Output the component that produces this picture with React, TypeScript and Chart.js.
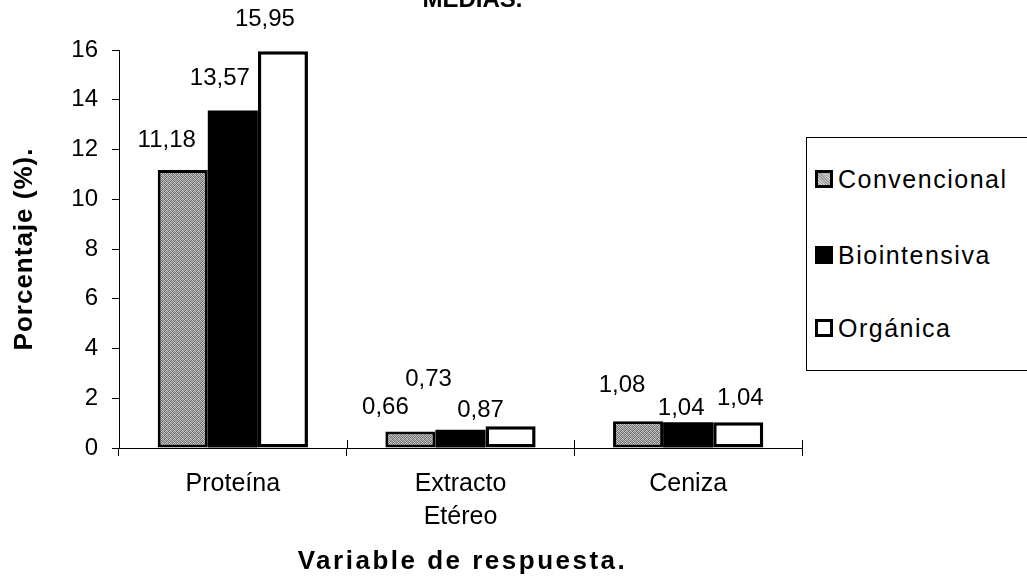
import React, { useEffect, useRef } from "react";
import { Chart, registerables } from "chart.js";

Chart.register(...registerables);

const categories: (string | string[])[] = ["Proteína", ["Extracto", "Etéreo"], "Ceniza"];
const seriesNames = ["Convencional", "Biointensiva", "Orgánica"];
const convencional = [11.18, 0.66, 1.08];
const biointensiva = [13.57, 0.73, 1.04];
const organica = [15.95, 0.87, 1.04];
const yMin = 0;
const yMax = 16;
const yStep = 2;
const chartTitle = "MEDIAS.";
const yTitle = "Porcentaje (%).";
const xTitle = "Variable de respuesta.";

// presentation nudges of the value labels (px, relative to each bar's top centre)
const labelDx = [
  [-16, -25, -16],
  [-13, -32, -7],
  [-18, -30, 2],
];
const labelRise = [
  [30, 24, 36],
  [32, 50, 14],
  [32, 16, 24],
];

const FONT = "'Liberation Sans', Arial, sans-serif";

function makePattern(): CanvasPattern | string {
  const c = document.createElement("canvas");
  c.width = 4;
  c.height = 4;
  const g = c.getContext("2d");
  if (!g) return "#999";
  const shades = [
    "#c8c8c8", "#6a6a6a", "#b0b0b0", "#7c7c7c",
    "#808080", "#d4d4d4", "#5e5e5e", "#b5b5b5",
    "#a0a0a0", "#707070", "#cfcfcf", "#858585",
    "#6d6d6d", "#b8b8b8", "#8a8a8a", "#c4c4c4",
  ];
  shades.forEach((s, i) => {
    g.fillStyle = s;
    g.fillRect(i % 4, Math.floor(i / 4), 1, 1);
  });
  const p = g.createPattern(c, "repeat");
  return p || "#999";
}

const fmt = (v: number) => v.toFixed(2).replace(".", ",");

const labelPlugin = {
  id: "valueLabels",
  afterDatasetsDraw(chart: any) {
    const ctx = chart.ctx;
    ctx.save();
    ctx.font = `24px ${FONT}`;
    ctx.fillStyle = "#000";
    ctx.textAlign = "center";
    ctx.textBaseline = "middle";
    chart.data.datasets.forEach((ds: any, di: number) => {
      const meta = chart.getDatasetMeta(di);
      meta.data.forEach((el: any, i: number) => {
        ctx.fillText(fmt(ds.data[i]), el.x + labelDx[di][i], el.y - labelRise[di][i]);
      });
    });
    ctx.restore();
  },
};

const innerTicksPlugin = {
  id: "innerTicks",
  afterDraw(chart: any) {
    const xs = chart.scales.x;
    const n = chart.data.labels.length;
    const ctx = chart.ctx;
    const y0 = chart.chartArea.bottom;
    ctx.save();
    ctx.strokeStyle = "#000";
    ctx.lineWidth = 1;
    for (let i = 1; i <= n; i++) {
      const x = Math.round(xs.left + (i * xs.width) / n) + 0.5;
      ctx.beginPath();
      ctx.moveTo(x, y0 - 8);
      ctx.lineTo(x, y0);
      ctx.stroke();
    }
    ctx.restore();
  },
};

const titlesPlugin = {
  id: "titles",
  afterDraw(chart: any) {
    const ctx = chart.ctx;
    const { left, right, top, bottom } = chart.chartArea;
    const cx = (left + right) / 2;
    ctx.save();
    ctx.fillStyle = "#000";
    ctx.textAlign = "center";
    ctx.font = `bold 24px ${FONT}`;
    (ctx as any).letterSpacing = "0px";
    ctx.textBaseline = "alphabetic";
    ctx.fillText(chartTitle, cx + 12, 7);
    ctx.font = `bold 26px ${FONT}`;
    (ctx as any).letterSpacing = "2.5px";
    ctx.fillText(xTitle, cx + 2, 569);
    ctx.font = `bold 26px ${FONT}`;
    (ctx as any).letterSpacing = "1px";
    ctx.translate(25, (top + bottom) / 2);
    ctx.rotate(-Math.PI / 2);
    ctx.textBaseline = "middle";
    ctx.fillText(yTitle, 0, 0);
    ctx.restore();
  },
};

function Swatch({ kind }: { kind: number }) {
  const base: React.CSSProperties = {
    width: 18,
    height: 18,
    boxSizing: "border-box",
    display: "inline-block",
    marginRight: 5,
    flex: "0 0 auto",
  };
  if (kind === 0)
    return (
      <span
        style={{
          ...base,
          border: "3px solid #000",
          background: "repeating-linear-gradient(45deg,#ccc 0 1px,#999 1px 2px)",
        }}
      />
    );
  if (kind === 1) return <span style={{ ...base, background: "#000" }} />;
  return <span style={{ ...base, border: "3px solid #000", background: "#fff" }} />;
}

const legendCenters = [178, 254, 327];

export default function App() {
  const ref = useRef<HTMLCanvasElement>(null);

  useEffect(() => {
    if (!ref.current) return;
    const pattern = makePattern();
    const chart = new Chart(ref.current, {
      type: "bar",
      data: {
        labels: categories,
        datasets: [
          {
            label: seriesNames[0],
            data: convencional,
            backgroundColor: pattern as any,
            borderColor: "#000",
            borderWidth: 3,
            borderSkipped: false,
          },
          {
            label: seriesNames[1],
            data: biointensiva,
            backgroundColor: "#000",
            borderColor: "#000",
            borderWidth: 0,
          },
          {
            label: seriesNames[2],
            data: organica,
            backgroundColor: "#fff",
            borderColor: "#000",
            borderWidth: 3.5,
            borderSkipped: false,
          },
        ],
      },
      options: {
        animation: false,
        responsive: false,
        maintainAspectRatio: false,
        layout: { padding: { top: 50, right: 225, left: 0, bottom: 0 } },
        plugins: {
          legend: { display: false },
          title: { display: false },
          tooltip: { enabled: false },
        },
        datasets: {
          bar: { categoryPercentage: 0.66, barPercentage: 1 },
        },
        scales: {
          x: {
            offset: true,
            grid: {
              display: true,
              offset: true,
              drawOnChartArea: false,
              color: "#000",
              tickLength: 8,
            },
            border: { display: true, color: "#000", width: 1 },
            ticks: {
              color: "#000",
              font: { family: FONT, size: 25, lineHeight: 1.3 },
              padding: 12,
              maxRotation: 0,
            },
            title: { display: false },
            afterFit(scale: any) {
              scale.height = 130;
            },
          },
          y: {
            min: yMin,
            max: yMax,
            grid: {
              display: true,
              drawOnChartArea: false,
              color: "#000",
              tickLength: 7,
            },
            border: { display: true, color: "#000", width: 1 },
            ticks: {
              stepSize: yStep,
              color: "#000",
              font: { family: FONT, size: 24 },
              padding: 14,
            },
            title: { display: false },
            afterFit(scale: any) {
              scale.width = 119;
            },
          },
        },
      },
      plugins: [labelPlugin, innerTicksPlugin, titlesPlugin],
    });
    return () => chart.destroy();
  }, []);

  return (
    <div
      style={{
        position: "fixed",
        left: 0,
        top: 0,
        width: 1027,
        height: 578,
        background: "#fff",
        overflow: "hidden",
      }}
    >
      <canvas ref={ref} width={1027} height={578} style={{ display: "block" }} />
      <div
        style={{
          position: "absolute",
          left: 806,
          top: 137,
          width: 240,
          height: 234,
          border: "1px solid #000",
          background: "#fff",
          boxSizing: "border-box",
          fontFamily: FONT,
          fontSize: 25,
          letterSpacing: "1.5px",
          color: "#000",
        }}
      >
        {seriesNames.map((n, i) => (
          <div
            key={n}
            style={{
              position: "absolute",
              left: 8,
              top: legendCenters[i] - 137 - 14,
              height: 28,
              display: "flex",
              alignItems: "center",
              whiteSpace: "nowrap",
            }}
          >
            <Swatch kind={i} />
            <span>{n}</span>
          </div>
        ))}
      </div>
    </div>
  );
}
